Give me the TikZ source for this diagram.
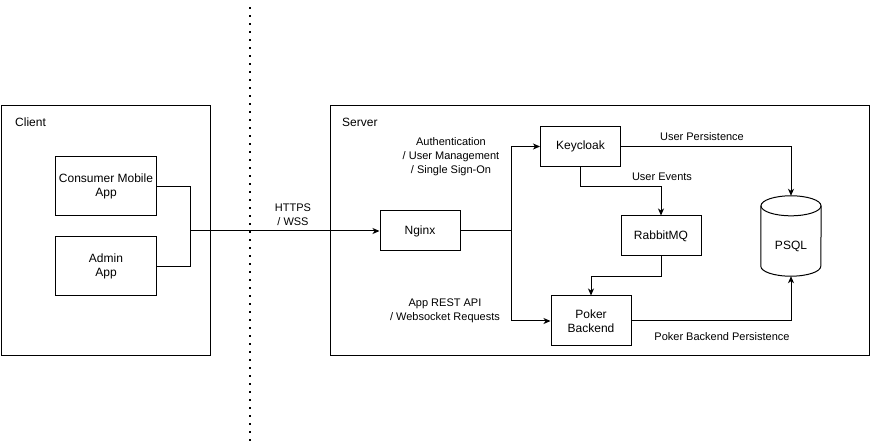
\documentclass[tikz,border=0pt]{standalone}
\usepackage{fontspec}
\setmainfont{Liberation Sans}
\usetikzlibrary{arrows.meta, positioning, calc}

\tikzset{
  zone/.style={draw, line width=1pt, inner sep=0pt},
  box/.style={draw, line width=1pt, minimum width=80pt, minimum height=40pt, align=center, inner sep=0pt, font=\fontsize{12}{14}\selectfont},
  lbl/.style={align=center, inner sep=0pt, font=\fontsize{11}{14}\selectfont},
  link/.style={line width=1pt},
  flow/.style={line width=1pt, -{Stealth[length=7pt, width=6pt, inset=2pt]}},
}

\begin{document}
\begin{tikzpicture}[x=1pt, y=-1pt]
  \useasboundingbox (0,0) rectangle (871,443);

  % Network border
  \draw[line width=1.6pt, dash pattern=on 1.6pt off 6.4pt] (250,7.5) -- (250,443);

  % Client side
  \node[zone, minimum width=209pt, minimum height=250pt] (client) at (105.5,231) {};
  \node[lbl, font=\fontsize{12}{14}\selectfont, anchor=west] (clientname) at (15,122) {Client};
  \node[box, minimum width=101pt, minimum height=59pt] (mobile) at (106,186.5) {Consumer Mobile\\App};
  \node[box, minimum width=101pt, minimum height=59pt] (admin) at (106,266.5) {Admin\\App};
  \coordinate (merge) at (190,231);

  % Server side
  \node[zone, minimum width=539pt, minimum height=250pt] (server) at (599.5,231) {};
  \node[lbl, font=\fontsize{12}{14}\selectfont, anchor=west] (servername) at (342,122) {Server};
  \node[box] (nginx) at (420,231) {Nginx};
  \coordinate (split) at (511,231);
  \node[box] (keycloak) at (580.5,146.5) {Keycloak};
  \node[box] (rabbit) at (661,236) {RabbitMQ};
  \node[box, minimum height=50pt] (poker) at (591,321) {Poker\\Backend};

  % Database
  \node[minimum width=60pt, minimum height=80pt, inner sep=0pt] (psql) at (791,236) {};
  \draw[link] ($(psql.north west)+(0,10)$) -- ($(psql.south west)+(0,-10)$)
    arc[start angle=180, end angle=360, x radius=30pt, y radius=10pt]
    -- ($(psql.north east)+(0,10)$);
  \draw[link] ($(psql.north)+(0,10)$) ellipse[x radius=30pt, y radius=10pt];
  \node[font=\fontsize{12}{14}\selectfont, inner sep=0pt] (psqlname) at (791,246) {PSQL};

  % Client to server
  \draw[link] (mobile.east) -| (merge);
  \draw[link] (admin.east) -| (merge);
  \draw[flow] (merge) -- (nginx.west);
  \node[lbl] (proto) at (293,215) {HTTPS\\/ WSS};

  % Nginx routing
  \draw[link] (nginx.east) -- (split);
  \draw[flow] (split) |- (keycloak.west);
  \draw[flow] (split) |- (poker.west);
  \node[lbl] (authlbl) at (451,157) {Authentication\\/ User Management\\/ Single Sign-On};
  \node[lbl] (apilbl) at (445,310.5) {App REST API\\/ Websocket Requests};

  % Events and persistence
  \draw[flow] (keycloak.south) -- ++(0,20) -| (rabbit.north);
  \node[lbl] (eventlbl) at (662,177) {User Events};
  \draw[flow] (rabbit.south) -- ++(0,20) -| (poker.north);
  \draw[flow] (keycloak.east) -| (psql.north);
  \node[lbl] (userlbl) at (702,137) {User Persistence};
  \draw[flow] (poker.east) -| (psql.south);
  \node[lbl] (pokerlbl) at (722,337) {Poker Backend Persistence};
\end{tikzpicture}
\end{document}
